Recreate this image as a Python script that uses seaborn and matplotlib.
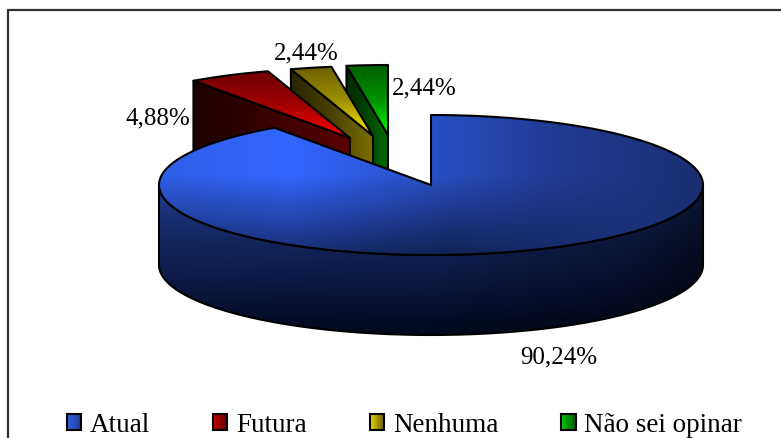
import numpy as np
import matplotlib
matplotlib.use("Agg")
import matplotlib.pyplot as plt
import seaborn as sns
from matplotlib.colors import to_rgb
from matplotlib.legend_handler import HandlerBase
from matplotlib.patches import Polygon, Rectangle

# ---- data ----
categories = ["Atual", "Futura", "Nenhuma", "Não sei opinar"]
shares = [90.24, 4.88, 2.44, 2.44]

# ---- styles / layout (pixels) ----
W, H = 781, 439
CX, CY, RX, RY, DEPTH = 431, 186, 272, 70, 80
explode_dx = [0, -81, -58, -43]
explode_dy = [0, -47, -49, -50]
label_pos = [(559, 357), (158, 118), (306, 53), (424, 88)]
top_ramps = [None,
             ["#700000", "#a00000", "#ff0000"],
             ["#6a6000", "#a09000", "#fff000"],
             ["#006000", "#009000", "#00ff00"]]
side_ramps = [None,
              ["#1e0000", "#3a0000", "#5a0000"],
              ["#2a2500", "#4a4200", "#7a7000"],
              ["#002800", "#004400", "#006c00"]]
swatch_ramps = [["#2f5fe0", "#1f3f98"], ["#c00000", "#6a0000"],
                ["#e0d000", "#706400"], ["#00c000", "#006000"]]

sns.set_theme(style="white")
plt.rcParams["font.family"] = ["Liberation Serif", "DejaVu Serif"]
plt.rcParams["text.color"] = "black"

fig = plt.figure(figsize=(W / 100, H / 100), dpi=100)
ax = fig.add_axes([0, 0, 1, 1])
ax.set_xlim(0, W)
ax.set_ylim(H, 0)
ax.axis("off")

# slice limits: clockwise from 12 o'clock, largest slice first
fractions = np.array(shares) / sum(shares)
starts = 90 - 360 * np.concatenate([[0], np.cumsum(fractions)[:-1]])
ends = starts - 360 * fractions


def rim(deg, dx=0.0, dy=0.0):
    t = np.radians(deg)
    return np.column_stack([CX + dx + RX * np.cos(t), CY + dy - RY * np.sin(t)])


def ramp(colours, n):
    return np.array(sns.blend_palette(colours, n))


def painted(poly, rgb, extent, z):
    im = ax.imshow(rgb, extent=extent, aspect="auto", interpolation="bilinear", zorder=z)
    patch = Polygon(poly, closed=True, fc="none", ec="none", transform=ax.transData)
    ax.add_patch(patch)
    im.set_clip_path(patch)
    ax.add_patch(Polygon(poly, closed=True, fc="none", ec="black", lw=1.5,
                         joinstyle="round", zorder=z + 0.1))


def small_slice(i, z):
    dx, dy = explode_dx[i], explode_dy[i]
    apex = np.array([CX + dx, CY + dy])
    arc = rim(np.linspace(starts[i], ends[i], 20), dx, dy)
    # left radial wall, seen from the front
    outer = arc[0]
    wall = np.array([outer, apex, apex + [0, DEPTH], outer + [0, DEPTH]])
    x0, x1 = wall[:, 0].min(), wall[:, 0].max()
    y0, y1 = wall[:, 1].min(), wall[:, 1].max()
    painted(wall, ramp(side_ramps[i], 64)[None, :, :], (x0, x1, y1, y0), z)
    # upper surface
    poly = np.vstack([apex, arc])
    y0, y1 = poly[:, 1].min(), poly[:, 1].max()
    painted(poly, ramp(top_ramps[i], 64)[:, None, :], (poly[:, 0].min(), poly[:, 0].max(), y1, y0), z + 0.2)


for i, z in zip([3, 2, 1], [2, 3, 4]):
    small_slice(i, z)

# --- large slice ---
xs = np.arange(150, 712)
ys = np.arange(105, 345)
X, Y = np.meshgrid(xs, ys)

# wall: front half of the rim
arc_front = rim(np.linspace(180, 360, 120))
wall = np.vstack([arc_front, arc_front[::-1] + [0, DEPTH]])
v_ramp = ramp(["#1f3c92", "#14265f", "#0c1640", "#000818"], 256)
vy = np.clip((Y - 190) / 150, 0, 1)
side_rgb = v_ramp[(vy * 255).astype(int)]
h_fade = np.interp(X, [150, 430, 620, 712], [1.0, 0.95, 0.62, 0.32])[..., None]
side_rgb = side_rgb * h_fade
painted(wall, side_rgb, (xs[0], xs[-1], ys[-1], ys[0]), 5)

# upper surface
arc_top = rim(np.linspace(starts[0], ends[0], 300))
top_poly = np.vstack([[CX, CY], arc_top])
h_cols = np.array([to_rgb(c) for c in ["#2f5fe8", "#3366ff", "#2850c4", "#203c94", "#1a2f72"]])
h_stops = [158, 290, 431, 550, 703]
top_rgb = np.stack([np.interp(X, h_stops, h_cols[:, k]) for k in range(3)], axis=-1)
dark = np.interp(Y, [175, 215, 258], [1.0, 0.72, 0.42])
weight = np.interp(X, [450, 650], [1.0, 0.1])
top_rgb = top_rgb * (1 - weight * (1 - dark))[..., None]
painted(top_poly, top_rgb, (xs[0], xs[-1], ys[-1], ys[0]), 6)

# percentage labels
for value, (lx, ly) in zip(shares, label_pos):
    ax.text(lx, ly, f"{value:.2f}%".replace(".", ","), ha="center", va="center",
            fontsize=18, color="black", zorder=10)

# frame (top and left only)
ax.plot([7.5, 7.5, W], [H, 10.5, 10.5], color="#303030", lw=1.6, zorder=1)


# legend with shaded swatches
class GradientSwatch(HandlerBase):
    def __init__(self, colours):
        super().__init__()
        self.colours = colours

    def create_artists(self, legend, orig, xd, yd, width, height, fontsize, trans):
        n = 10
        cols = ramp(self.colours, n)
        arts = [Rectangle((-xd + width * k / n, -yd), width / n, height, fc=cols[k],
                          ec="none", transform=trans) for k in range(n)]
        arts.append(Rectangle((-xd, -yd), width, height, fc="none", ec="black", lw=1.5,
                              transform=trans))
        return arts


handles = [Rectangle((0, 0), 1, 1) for _ in categories]
leg = ax.legend(handles, categories, ncols=4, loc="center", bbox_to_anchor=(404.5, 426),
                bbox_transform=ax.transData, frameon=False, fontsize=19.5,
                labelcolor="black",
                handlelength=0.52, handleheight=0.52, handletextpad=0.33,
                columnspacing=2.33, borderpad=0, borderaxespad=0,
                handler_map={h: GradientSwatch(c) for h, c in zip(handles, swatch_ramps)})

fig.savefig("out.png", dpi=100, facecolor="white")
